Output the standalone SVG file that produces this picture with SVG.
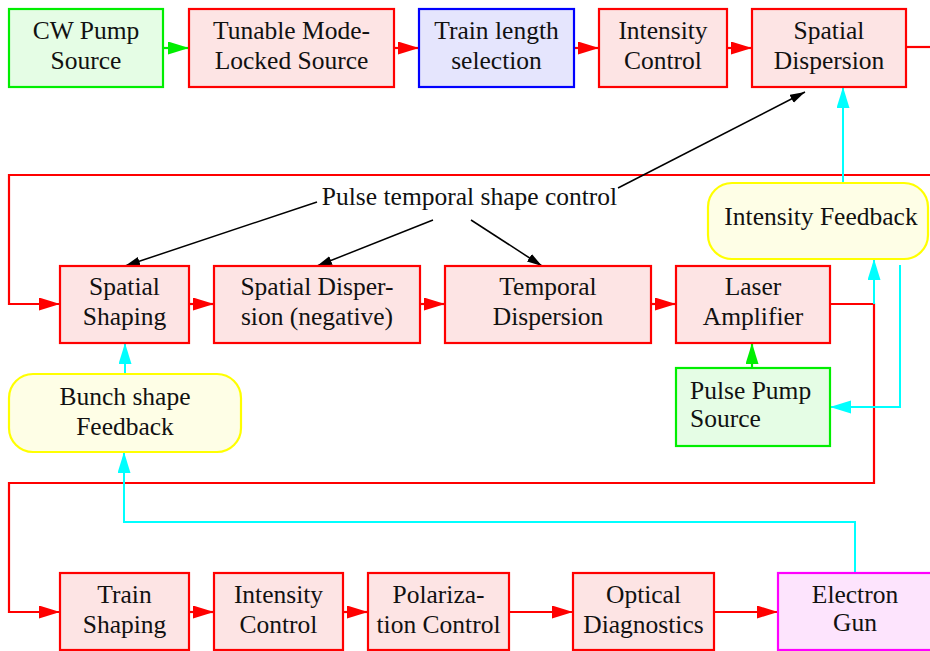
<svg xmlns="http://www.w3.org/2000/svg" width="930" height="651" viewBox="0 0 930 651">
<defs>
<marker id="ar" markerUnits="userSpaceOnUse" markerWidth="22" markerHeight="14" refX="21" refY="6.5" orient="auto"><path d="M0,0 L21,6.5 L0,13 z" fill="#ff0000"/></marker>
<marker id="ag" markerUnits="userSpaceOnUse" markerWidth="22" markerHeight="14" refX="21" refY="6.5" orient="auto"><path d="M0,0 L21,6.5 L0,13 z" fill="#00ee00"/></marker>
<marker id="ac" markerUnits="userSpaceOnUse" markerWidth="22" markerHeight="14" refX="21" refY="6.5" orient="auto"><path d="M0,0 L21,6.5 L0,13 z" fill="#00ffff"/></marker>
<marker id="ak" markerUnits="userSpaceOnUse" markerWidth="16" markerHeight="10" refX="15" refY="4.5" orient="auto"><path d="M0,0 L15,4.5 L0,9 z" fill="#000"/></marker>
</defs>
<style>
text{font-family:"Liberation Serif","Times New Roman",serif;font-size:25.5px;fill:#111;text-anchor:middle}
.r{fill:#fde4e4;stroke:#ff0000;stroke-width:2.2}
.g{fill:#e5fde5;stroke:#00ee00;stroke-width:2.2}
.b{fill:#e5e5fd;stroke:#0000ff;stroke-width:2.2}
.y{fill:#fefee6;stroke:#ffff00;stroke-width:2.2}
.m{fill:#fde4fd;stroke:#ff00ff;stroke-width:2.2}
.er{fill:none;stroke:#ff0000;stroke-width:2.2}
.eg{fill:none;stroke:#00ee00;stroke-width:2.2}
.ec{fill:none;stroke:#00ffff;stroke-width:2}
.ek{fill:none;stroke:#000;stroke-width:1.5}
</style>
<rect width="930" height="651" fill="#fff"/>
<g id="connectors">
<path class="eg" d="M163,48 H189" marker-end="url(#ag)"/>
<path class="er" d="M394,48 H419" marker-end="url(#ar)"/>
<path class="er" d="M574,48 H599" marker-end="url(#ar)"/>
<path class="er" d="M727,48 H752" marker-end="url(#ar)"/>
<path class="er" d="M906,47 H935"/>
<path class="er" d="M935,175 H9 V304 H60" marker-end="url(#ar)"/>
<path class="er" d="M189,304 H214" marker-end="url(#ar)"/>
<path class="er" d="M420,304 H445" marker-end="url(#ar)"/>
<path class="er" d="M651,304 H676" marker-end="url(#ar)"/>
<path class="er" d="M830,304 H874 V483 H9 V612 H60" marker-end="url(#ar)"/>
<path class="er" d="M189,612 H214" marker-end="url(#ar)"/>
<path class="er" d="M343,612 H368" marker-end="url(#ar)"/>
<path class="er" d="M509,612 H573" marker-end="url(#ar)"/>
<path class="er" d="M714,612 H778" marker-end="url(#ar)"/>
<path class="ec" d="M843,183 V87" marker-end="url(#ac)"/>
<path class="ec" d="M874,304 V259" marker-end="url(#ac)"/>
<path class="ec" d="M900,265 V407 H830" marker-end="url(#ac)"/>
<path class="eg" d="M752,368 V343" marker-end="url(#ag)"/>
<path class="ec" d="M125,373 V343" marker-end="url(#ac)"/>
<path class="ec" d="M855,573 V522 H124 V452" marker-end="url(#ac)"/>
<path class="ek" d="M317,202 L125,266" marker-end="url(#ak)"/>
<path class="ek" d="M433,220 L317,266" marker-end="url(#ak)"/>
<path class="ek" d="M471,220 L542,266" marker-end="url(#ak)"/>
<path class="ek" d="M618,188 L805,92" marker-end="url(#ak)"/>
<text x="469.5" y="205">Pulse temporal shape control</text>
</g>
<g id="cw_pump"><rect class="g" x="9" y="9" width="154" height="78"/><text x="86" y="39">CW Pump</text><text x="86" y="69">Source</text></g>
<g id="tunable"><rect class="r" x="189" y="9" width="205" height="78"/><text x="291.5" y="39">Tunable Mode-</text><text x="291.5" y="69">Locked Source</text></g>
<g id="train_length"><rect class="b" x="419" y="9" width="155" height="78"/><text x="496.5" y="39">Train length</text><text x="496.5" y="69">selection</text></g>
<g id="intensity1"><rect class="r" x="599" y="9" width="128" height="78"/><text x="663" y="39">Intensity</text><text x="663" y="69">Control</text></g>
<g id="spatial_disp"><rect class="r" x="752" y="9" width="154" height="78"/><text x="829" y="39">Spatial</text><text x="829" y="69">Dispersion</text></g>
<g id="intensity_fb"><rect class="y" x="708" y="183" width="220" height="76" rx="24"/><text x="821" y="225">Intensity Feedback</text></g>
<g id="spatial_shaping"><rect class="r" x="60" y="266" width="129" height="77"/><text x="124.5" y="295">Spatial</text><text x="124.5" y="325">Shaping</text></g>
<g id="spatial_disp_neg"><rect class="r" x="214" y="266" width="206" height="77"/><text x="317" y="295">Spatial Disper-</text><text x="317" y="325">sion (negative)</text></g>
<g id="temporal_disp"><rect class="r" x="445" y="266" width="206" height="77"/><text x="548" y="295">Temporal</text><text x="548" y="325">Dispersion</text></g>
<g id="laser_amp"><rect class="r" x="676" y="266" width="154" height="77"/><text x="753" y="295">Laser</text><text x="753" y="325">Amplifier</text></g>
<g id="bunch_fb"><rect class="y" x="9" y="374" width="232" height="78" rx="24"/><text x="125" y="405">Bunch shape</text><text x="125" y="435">Feedback</text></g>
<g id="pulse_pump"><rect class="g" x="676" y="368" width="154" height="78"/><text x="690" y="399" style="text-anchor:start">Pulse Pump</text><text x="690" y="427" style="text-anchor:start">Source</text></g>
<g id="train_shaping"><rect class="r" x="60" y="573" width="129" height="77"/><text x="124.5" y="603">Train</text><text x="124.5" y="633">Shaping</text></g>
<g id="intensity2"><rect class="r" x="214" y="573" width="129" height="77"/><text x="278.5" y="603">Intensity</text><text x="278.5" y="633">Control</text></g>
<g id="polarization"><rect class="r" x="368" y="573" width="141" height="77"/><text x="438.5" y="603">Polariza-</text><text x="438.5" y="633">tion Control</text></g>
<g id="optical_diag"><rect class="r" x="573" y="573" width="141" height="77"/><text x="643.5" y="603">Optical</text><text x="643.5" y="633">Diagnostics</text></g>
<g id="electron_gun"><rect class="m" x="778" y="573" width="156" height="77"/><text x="855" y="603">Electron</text><text x="855" y="631">Gun</text></g>
</svg>
